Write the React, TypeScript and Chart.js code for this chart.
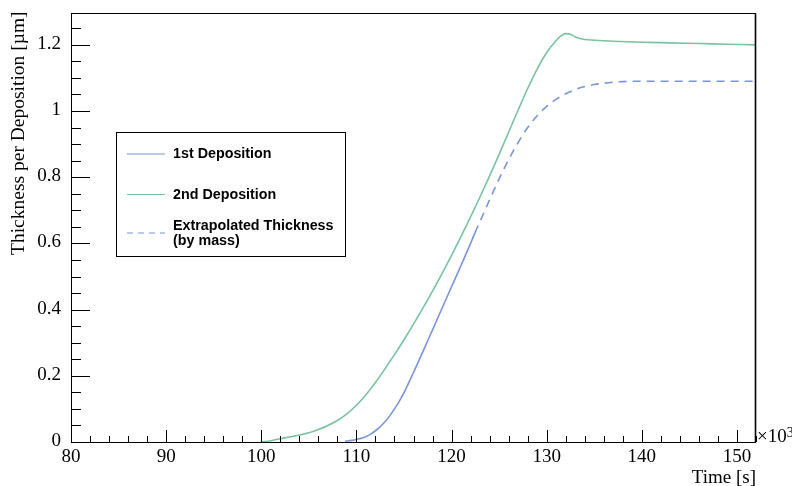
import React, { useEffect, useRef } from "react";
import { Chart, registerables } from "chart.js";

Chart.register(...registerables);

// ---- data ----
const secondTime = [100, 101, 102, 103, 104, 105, 106, 107, 108, 109, 110, 111, 112, 113, 114, 115, 116, 117, 118, 119, 120, 121, 122, 123, 124, 125, 126, 127, 128, 129, 130, 131, 131.5, 132, 132.5, 133, 133.5, 134, 135, 137, 140, 143, 146, 149, 152];
const secondThickness = [0, 0.004, 0.01, 0.015, 0.021, 0.028, 0.038, 0.05, 0.065, 0.085, 0.111, 0.143, 0.18, 0.221, 0.264, 0.309, 0.356, 0.405, 0.456, 0.509, 0.564, 0.621, 0.68, 0.741, 0.804, 0.869, 0.936, 1.003, 1.068, 1.127, 1.177, 1.213, 1.227, 1.234, 1.232, 1.224, 1.219, 1.216, 1.214, 1.211, 1.208, 1.206, 1.204, 1.202, 1.2];

const firstTime = [108.8, 109.5, 110, 110.5, 111, 111.5, 112, 112.5, 113, 113.5, 114, 114.5, 115, 116, 117, 118, 119, 120, 121, 122, 122.45];
const firstThickness = [0.002, 0.005, 0.008, 0.011, 0.016, 0.024, 0.034, 0.046, 0.061, 0.079, 0.1, 0.123, 0.149, 0.21, 0.274, 0.339, 0.404, 0.469, 0.534, 0.6, 0.632];

const extTime = [122.45, 123, 124, 125, 126, 127, 128, 129, 130, 131, 132, 133, 134, 135, 136, 137, 138, 140, 145, 152];
const extThickness = [0.632, 0.667, 0.732, 0.795, 0.853, 0.905, 0.95, 0.986, 1.014, 1.036, 1.052, 1.065, 1.074, 1.08, 1.084, 1.087, 1.089, 1.09, 1.09, 1.09];

const xTickLabels = [80, 90, 100, 110, 120, 130, 140, 150];
const yTickLabels = [0, 0.2, 0.4, 0.6, 0.8, 1, 1.2];

const seriesNames = ["1st Deposition", "2nd Deposition", "Extrapolated Thickness", "(by mass)"];

const X_MIN = 80;
const X_MAX = 152;
const Y_MIN = 0;
const Y_MAX = 1.295;
const X_MINOR = 2;
const Y_MINOR = 0.05;

const BLUE = "#7896d8";
const GREEN = "#79c39f";
const SERIF = '"Liberation Serif", "Times New Roman", serif';
const SANS = '"Liberation Sans", Arial, sans-serif';

const toPoints = (xs: number[], ys: number[]) => xs.map((x, i) => ({ x, y: ys[i] }));

const decorPlugin = {
  id: "decor",
  afterDraw(chart: any) {
    const { ctx, chartArea: a, scales } = chart;
    const xs = scales.x;
    const ys = scales.y;
    ctx.save();
    ctx.strokeStyle = "#000";
    ctx.lineWidth = 1;
    // frame
    ctx.strokeRect(Math.round(a.left) + 0.5, Math.round(a.top) + 0.5, Math.round(a.right - a.left) - 1, Math.round(a.bottom - a.top));
    ctx.beginPath();
    ctx.moveTo(Math.round(a.right) - 0.5, a.top);
    ctx.lineTo(Math.round(a.right) - 0.5, a.bottom);
    ctx.lineWidth = 1.6;
    ctx.stroke();
    ctx.lineWidth = 1;
    // x ticks
    ctx.beginPath();
    for (let v = X_MIN; v <= X_MAX + 1e-9; v += X_MINOR) {
      const major = Math.abs(v / 10 - Math.round(v / 10)) < 1e-6;
      const px = Math.round(xs.getPixelForValue(v)) + 0.5;
      const len = major ? 12 : 6;
      ctx.moveTo(px, a.bottom);
      ctx.lineTo(px, a.bottom - len);
    }
    // y ticks
    for (let k = 0; k * Y_MINOR <= Y_MAX + 1e-9; k++) {
      const v = k * Y_MINOR;
      const major = k % 4 === 0;
      const py = Math.round(ys.getPixelForValue(v)) + 0.5;
      const len = major ? 19 : 10;
      ctx.moveTo(a.left, py);
      ctx.lineTo(a.left + len, py);
    }
    ctx.stroke();

    // axis titles
    ctx.fillStyle = "#000";
    ctx.font = `19px ${SERIF}`;
    ctx.textBaseline = "alphabetic";
    ctx.textAlign = "right";
    ctx.fillText("Time [s]", a.right, 483);
    ctx.textAlign = "left";
    ctx.fillText("\u00d710", a.right + 1, 442);
    const w = ctx.measureText("\u00d710").width;
    ctx.font = `14px ${SERIF}`;
    ctx.fillText("3", a.right + 1 + w, 437);

    ctx.save();
    ctx.font = `19.5px ${SERIF}`;
    ctx.translate(24, a.top - 2);
    ctx.rotate(-Math.PI / 2);
    ctx.textAlign = "right";
    ctx.textBaseline = "alphabetic";
    ctx.fillText("Thickness per Deposition [\u00b5m]", 0, 0);
    ctx.restore();

    // legend
    ctx.lineWidth = 1;
    ctx.strokeStyle = "#000";
    ctx.strokeRect(116.5, 132.5, 229, 124);
    ctx.font = `bold 14.3px ${SANS}`;
    ctx.textAlign = "left";
    ctx.textBaseline = "middle";
    ctx.fillStyle = "#000";
    const entries = [
      { color: BLUE, dash: [] as number[], lineY: 154, texts: [seriesNames[0]], textY: [154] },
      { color: GREEN, dash: [] as number[], lineY: 194.5, texts: [seriesNames[1]], textY: [195] },
      { color: BLUE, dash: [6, 5], lineY: 233, texts: [seriesNames[2], seriesNames[3]], textY: [226, 241] },
    ];
    entries.forEach((e) => {
      ctx.save();
      ctx.strokeStyle = e.color;
      ctx.lineWidth = 1.2;
      ctx.setLineDash(e.dash);
      ctx.beginPath();
      ctx.moveTo(127, e.lineY);
      ctx.lineTo(165, e.lineY);
      ctx.stroke();
      ctx.restore();
      e.texts.forEach((t, i) => ctx.fillText(t, 173, e.textY[i]));
    });
    ctx.restore();
  },
};

export default function App() {
  const ref = useRef<HTMLCanvasElement | null>(null);

  useEffect(() => {
    if (!ref.current) return;
    const chart = new Chart(ref.current, {
      type: "line",
      data: {
        datasets: [
          {
            label: seriesNames[0],
            data: toPoints(firstTime, firstThickness),
            borderColor: BLUE,
            borderWidth: 1.6,
            pointRadius: 0,
            cubicInterpolationMode: "monotone",
            fill: false,
          },
          {
            label: seriesNames[1],
            data: toPoints(secondTime, secondThickness),
            borderColor: GREEN,
            borderWidth: 1.6,
            pointRadius: 0,
            cubicInterpolationMode: "monotone",
            fill: false,
          },
          {
            label: seriesNames[2],
            data: toPoints(extTime, extThickness),
            borderColor: BLUE,
            borderWidth: 1.6,
            borderDash: [8, 6],
            pointRadius: 0,
            cubicInterpolationMode: "monotone",
            fill: false,
          },
        ],
      },
      options: {
        responsive: false,
        animation: false,
        events: [],
        layout: { padding: { top: 9, right: 36, left: 0, bottom: 0 } },
        plugins: { legend: { display: false }, tooltip: { enabled: false }, title: { display: false } },
        scales: {
          x: {
            type: "linear",
            min: X_MIN,
            max: X_MAX,
            grid: { display: false },
            border: { display: false },
            afterBuildTicks: (s: any) => {
              s.ticks = xTickLabels.map((v) => ({ value: v }));
            },
            afterFit: (s: any) => {
              s.height = 44;
            },
            ticks: {
              color: "#000",
              font: { family: SERIF, size: 19 },
              padding: -4,
              maxRotation: 0,
              autoSkip: false,
              callback: (v: any) => String(v),
            },
          },
          y: {
            type: "linear",
            min: Y_MIN,
            max: Y_MAX,
            grid: { display: false },
            border: { display: false },
            afterBuildTicks: (s: any) => {
              s.ticks = yTickLabels.map((v) => ({ value: v }));
            },
            afterFit: (s: any) => {
              s.width = 71;
            },
            ticks: {
              color: "#000",
              font: { family: SERIF, size: 19 },
              padding: 2,
              labelOffset: -1,
              autoSkip: false,
              callback: (v: any) => String(v),
            },
          },
        },
      },
      plugins: [decorPlugin],
    });
    return () => chart.destroy();
  }, []);

  return (
    <div style={{ position: "absolute", left: 0, top: 0, width: 792, height: 486, background: "#fff" }}>
      <canvas ref={ref} width={792} height={486} style={{ display: "block" }} />
    </div>
  );
}
